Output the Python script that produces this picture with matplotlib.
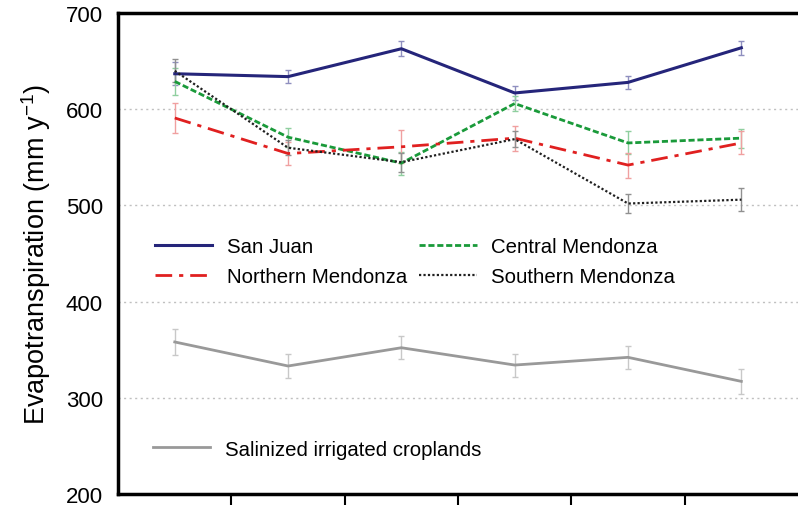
import matplotlib
matplotlib.use("Agg")
import matplotlib.pyplot as plt
import numpy as np

plt.rcParams['font.family'] = ['Liberation Sans', 'DejaVu Sans']
plt.rcParams['mathtext.fontset'] = 'custom'
plt.rcParams['mathtext.rm'] = 'Liberation Sans'

positions = [0.5, 1.5, 2.5, 3.5, 4.5, 5.5]
san_juan = [637, 634, 663, 617, 628, 664]
san_juan_err = [12, 7, 8, 7, 7, 7]
central = [629, 571, 544, 606, 565, 570]
central_err = [14, 10, 12, 8, 12, 10]
northern = [591, 554, 561, 570, 542, 565]
northern_err = [16, 12, 17, 13, 13, 12]
southern = [640, 560, 545, 569, 502, 506]
southern_err = [12, 8, 10, 8, 10, 12]
salinized = [358, 333, 352, 334, 342, 317]
salinized_err = [14, 12, 12, 12, 12, 13]

fig = plt.figure(figsize=(7.98, 5.06), dpi=100)
ax = fig.add_axes([0.148, 0.022, 0.852, 0.950])

series = [
    ("San Juan", san_juan, san_juan_err, "#25257a", "#8f8fbf", dict(linestyle="-", linewidth=2.2)),
    ("Central Mendonza", central, central_err, "#1a9a3a", "#8fcf9f", dict(linestyle=(0, (2.2, 1.0)), linewidth=2.0)),
    ("Northern Mendonza", northern, northern_err, "#e02020", "#f0a0a0", dict(linestyle=(0, (6, 2.5, 1.5, 2.5)), linewidth=2.0)),
    ("Southern Mendonza", southern, southern_err, "#202020", "#909090", dict(linestyle=(0, (1, 1)), linewidth=1.6)),
]

for y in [300, 400, 500, 600]:
    ax.axhline(y, color="#c0c0c0", linestyle=(0, (1.5, 2.5)), linewidth=1.0, zorder=0)

handles = {}
for name, vals, err, col, ecol, style in series:
    ax.errorbar(positions, vals, yerr=err, fmt="none", ecolor=ecol, elinewidth=1.0, capsize=2.5, capthick=1.0, zorder=1)
    (ln,) = ax.plot(positions, vals, color=col, zorder=2, **style)
    handles[name] = ln

ax.errorbar(positions, salinized, yerr=salinized_err, fmt="none", ecolor="#c8c8c8", elinewidth=1.0, capsize=2.5, capthick=1.0, zorder=1)
(sal_ln,) = ax.plot(positions, salinized, color="#999999", linewidth=2.0, zorder=2)

ax.set_xlim(0, 6)
ax.set_ylim(200, 700)
ax.set_yticks([200, 300, 400, 500, 600, 700])
ax.set_xticks([1, 2, 3, 4, 5])
ax.set_xticklabels([])
ax.tick_params(axis="y", length=0, labelsize=16, pad=11)
ax.tick_params(axis="x", length=10, width=1.5, direction="out")
for s in ["left", "bottom", "top"]:
    ax.spines[s].set_linewidth(2.5)
ax.spines["right"].set_visible(False)

ax.set_ylabel("Evapotranspiration (mm y$^{\\mathregular{-1}}$)", fontsize=19.5, labelpad=9)

leg_kw = dict(frameon=False, fontsize=14.7, handlelength=2.8, handletextpad=0.73,
              borderpad=0, borderaxespad=0)
leg1 = ax.legend(
    [handles["San Juan"], handles["Northern Mendonza"], handles["Central Mendonza"], handles["Southern Mendonza"]],
    ["San Juan", "Northern Mendonza", "Central Mendonza", "Southern Mendonza"],
    ncol=2, loc="upper left", bbox_to_anchor=(0.054, 0.534),
    labelspacing=0.55, columnspacing=0.6, **leg_kw,
)
ax.add_artist(leg1)
ax.legend([sal_ln], ["Salinized irrigated croplands"], loc="upper left",
          bbox_to_anchor=(0.051, 0.113), **leg_kw)

fig.savefig("out.png", dpi=100)
